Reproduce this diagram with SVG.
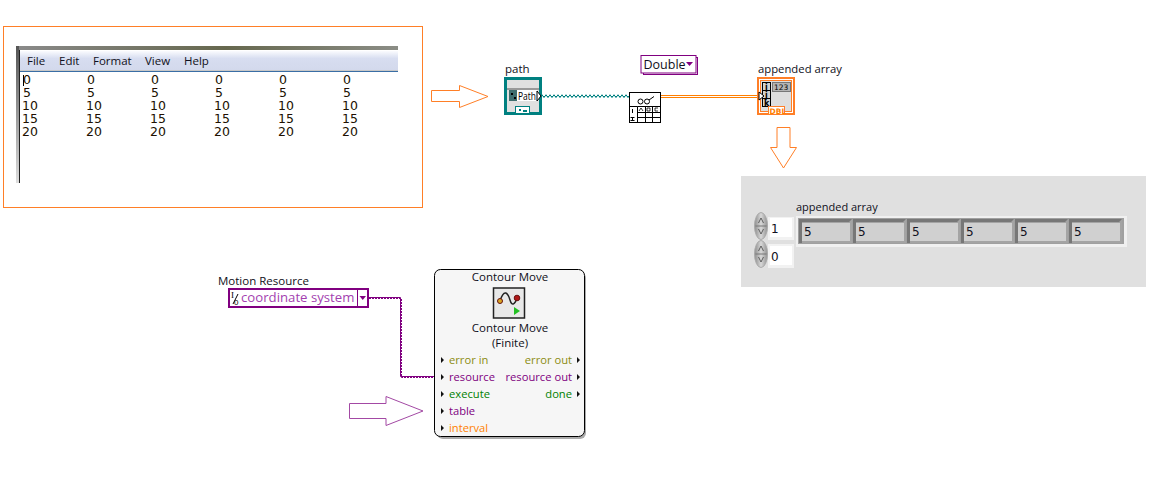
<svg xmlns="http://www.w3.org/2000/svg" width="1156" height="493" viewBox="0 0 1156 493">
<style>
text{font-family:"Open Sans","Noto Sans",sans-serif;font-size:11.500px;fill:#101020}
.row{font-size:11.200px}
.num{font-family:"DejaVu Sans",sans-serif;font-size:12.500px;fill:#201000}
.cell{font-family:"DejaVu Sans",sans-serif;font-size:12px}
.oa{fill:#fff;stroke:#ff7f27;stroke-width:1}
.pa{fill:#fff;stroke:#a349a4;stroke-width:1}
.err{fill:#8c8c10}.res{fill:#800080}.exe{fill:#008000}.int{fill:#ff7f00}
.tri{fill:#111}
.bev{fill:#a4a4a4}
.dk{fill:#777}
.in{fill:#d0d0d0}
.small{font-family:"DejaVu Sans",sans-serif;font-size:8px;font-weight:bold;fill:#000}
</style>
<defs>
<linearGradient id="top" x1="0" x2="1" y1="0" y2="0"><stop offset="0" stop-color="#8a8a8a"/><stop offset=".55" stop-color="#66684e"/><stop offset="1" stop-color="#8b8d86"/></linearGradient>
<linearGradient id="side" x1="0" x2="0" y1="0" y2="1"><stop offset="0" stop-color="#555"/><stop offset="1" stop-color="#ddd"/></linearGradient>
<linearGradient id="menu" x1="0" x2="0" y1="0" y2="1"><stop offset="0" stop-color="#fafbfe"/><stop offset=".4" stop-color="#d7ddf0"/><stop offset="1" stop-color="#d3d9ec"/></linearGradient>
<linearGradient id="spin" x1="0" x2="1" y1="0" y2="0"><stop offset="0" stop-color="#8c8c8c"/><stop offset=".5" stop-color="#d8d8d8"/><stop offset="1" stop-color="#909090"/></linearGradient>
<g id="spinner"><ellipse cx="0" cy="0" rx="6.500" ry="13.500" fill="url(#spin)" stroke="#aaa"/><path d="M-2.500-3 0-8 2.500-3M-2.500 3 0 8 2.500 3" fill="none" stroke="#444" stroke-width=".8"/><path d="M-5.500 0H5.500" stroke="#777"/></g>
<g id="cell"><rect x="0" y="0" width="53" height="24" class="bev"/><path d="M0 0H53L50 3H3V24L0 24Z" class="dk"/><rect x="3" y="4" width="48" height="18" class="in"/></g>
</defs>

<g id="file-window">
<rect x="3.500" y="26.500" width="419" height="181" fill="#fff" stroke="#ff7f27"/>
<rect x="16" y="46" width="382" height="4" fill="url(#top)"/>
<rect x="16" y="46" width="3" height="137" fill="url(#side)"/>
<rect x="19" y="50" width="1" height="133" fill="#222"/>
<rect x="20" y="51" width="378" height="19" fill="url(#menu)"/>
<rect x="20" y="70" width="378" height="1" fill="#c8c8c8"/>
<rect x="20" y="71" width="378" height="1" fill="#3a6ea5"/>
<text x="27" y="65">File</text><text x="59" y="65">Edit</text><text x="93" y="65">Format</text><text x="145" y="65">View</text><text x="184" y="65">Help</text>
<rect x="23" y="75" width="1" height="11" fill="#000"/>
<g class="rows">
<text class="num" x="23" y="84">0</text><text class="num" x="87" y="84">0</text><text class="num" x="151" y="84">0</text><text class="num" x="215" y="84">0</text><text class="num" x="279" y="84">0</text><text class="num" x="343" y="84">0</text>
<text class="num" x="23" y="97">5</text><text class="num" x="87" y="97">5</text><text class="num" x="151" y="97">5</text><text class="num" x="215" y="97">5</text><text class="num" x="279" y="97">5</text><text class="num" x="343" y="97">5</text>
<text class="num" x="22" y="110">10</text><text class="num" x="86" y="110">10</text><text class="num" x="150" y="110">10</text><text class="num" x="214" y="110">10</text><text class="num" x="278" y="110">10</text><text class="num" x="342" y="110">10</text>
<text class="num" x="22" y="123">15</text><text class="num" x="86" y="123">15</text><text class="num" x="150" y="123">15</text><text class="num" x="214" y="123">15</text><text class="num" x="278" y="123">15</text><text class="num" x="342" y="123">15</text>
<text class="num" x="22" y="136">20</text><text class="num" x="86" y="136">20</text><text class="num" x="150" y="136">20</text><text class="num" x="214" y="136">20</text><text class="num" x="278" y="136">20</text><text class="num" x="342" y="136">20</text>
</g>
</g>

<g id="connectors" fill="none">
<path d="M541 95.500H629" stroke="#008080" stroke-width="1.500" stroke-dasharray="2 2"/>
<path d="M541 96.800H629" stroke="#008080" stroke-width="1.500" stroke-dasharray="2 2" stroke-dashoffset="2"/>
<path d="M661 95.500H758M661 97.500H758" stroke="#ff7f00"/>
<path d="M661 96.500H758" stroke="#fff"/>
<path d="M369 297.500H400.500V376.500H437" stroke="#800080" stroke-width="1"/>
<path d="M369 298.500H401.500V377.500H437" stroke="#800080" stroke-width="1" stroke-dasharray="2 1"/>
</g>

<g id="arrow-right-orange"><polygon class="oa" points="431.500,90.500 459.500,90.500 459.500,85.500 488,96.500 459.500,107.500 459.500,101.500 431.500,101.500"/></g>
<g id="arrow-down-orange"><polygon class="oa" points="777,127.500 790,127.500 790,147.500 796.500,147.500 783.500,168 770.500,147.500 777,147.500"/></g>
<g id="arrow-right-purple"><polygon class="pa" points="349.500,403.500 386,403.500 386,396.500 423,411 386,425.500 386,418.500 349.500,418.500"/></g>

<g id="path-control">
<text x="505" y="73">path</text>
<rect x="505.500" y="78.500" width="35" height="35" fill="#e0e0e0" stroke="#008080" stroke-width="3"/>
<rect x="507" y="88" width="32" height="2" fill="#999"/>
<rect x="509" y="90" width="8" height="11" fill="#3f6e6e"/>
<path d="M511 93h2v2h-2zM514 97h2v2h-2z" fill="#000"/>
<rect x="517" y="90" width="20" height="11" fill="#fff"/>
<text x="518" y="100" textLength="18" lengthAdjust="spacingAndGlyphs" style="font-size:10.500px;fill:#000">Path</text>
<polygon points="537,91 537,101 541,96" fill="#fff" stroke="#000"/>
<rect x="515.500" y="106.500" width="14" height="7" fill="#fff" stroke="#008080"/>
<path d="M519 109h2v2h-2zM523 110h4v2h-4z" fill="#008080"/>
</g>

<g id="read-delimited">
<rect x="629.500" y="92.500" width="31" height="30" fill="#fff" stroke="#000"/>
<circle cx="640.500" cy="101.500" r="2.500" fill="none" stroke="#000"/><circle cx="647" cy="101.500" r="2.500" fill="none" stroke="#000"/>
<path d="M649 100 654 96.500" stroke="#000" fill="none"/>
<path d="M637.500 106.500H660.500M629.500 106.500H637.500M637.500 106.500V122.500M645.500 106.500V122.500M652.500 106.500V122.500M637.500 112.500H660.500M637.500 117.500H660.500" stroke="#000" fill="none"/>
<path d="M632.500 109V113M630.500 117.500H634.500M632.500 117.500V120.500M630.500 120.500H634.500" stroke="#000" fill="none"/>
<path d="M639 111l2-3 2 3M647 108h3v3h-3zM655 108h3M655 108v3h3" stroke="#000" stroke-width=".8" fill="none"/>
</g>

<g id="double-constant">
<rect x="643.500" y="57.500" width="54" height="17" fill="#fff" stroke="#800080"/>
<rect x="641" y="55.500" width="55" height="17.500" fill="#fff" stroke="#800080"/>
<text x="643.500" y="69" style="font-size:12.500px">Double</text>
<polygon points="686,62 693,62 689.500,66" fill="#800080"/>
</g>

<g id="appended-array-terminal">
<text x="758" y="73" style="font-size:11.300px">appended array</text>
<rect x="758" y="78" width="36" height="36" fill="#fff" stroke="#ff7f27" stroke-width="2"/>
<rect x="760.500" y="80.500" width="31" height="31" fill="#dedede" stroke="#ff7f27"/>
<rect x="762.500" y="82.500" width="8" height="24" fill="#d0d0d0" stroke="#000"/>
<path d="M762.500 90.500H770.500M762.500 98.500H770.500" stroke="#000"/>
<text class="small" x="765" y="89.500">i</text>
<text class="small" x="765" y="97.500">j</text>
<text class="small" x="764" y="105.500">k</text>
<rect x="772.500" y="82.500" width="18" height="9" fill="#b4b4b4" stroke="#777"/>
<text x="774" y="90" style="font-family:'DejaVu Sans',sans-serif;font-size:7.500px;fill:#000">123</text>
<polygon points="759,92 759,100 764,96" fill="#fff" stroke="#000"/>
<rect x="768.500" y="106.500" width="16" height="8" fill="#fff" stroke="#ff7f27"/>
<text x="769.500" y="113.500" style="font-family:'DejaVu Sans',sans-serif;font-size:7.500px;font-weight:bold;fill:#ff7f00">DBL</text>
</g>

<g id="front-panel">
<rect x="741" y="176" width="405" height="111" fill="#e0e0e0"/>
<text x="796" y="211" style="font-size:11px">appended array</text>
<rect x="796" y="216" width="331" height="31" fill="#f0f0f0"/>
<rect x="798" y="218" width="326" height="26" fill="#a0a0a0"/>
<use href="#cell" x="799" y="219"/><use href="#cell" x="853" y="219"/><use href="#cell" x="907" y="219"/><use href="#cell" x="961" y="219"/><use href="#cell" x="1015" y="219"/><use href="#cell" x="1069" y="219"/>
<text class="cell" x="804" y="236">5</text><text class="cell" x="858" y="236">5</text><text class="cell" x="912" y="236">5</text><text class="cell" x="966" y="236">5</text><text class="cell" x="1020" y="236">5</text><text class="cell" x="1074" y="236">5</text>
<use href="#spinner" x="761" y="226"/>
<rect x="768" y="217" width="26" height="23" fill="#f2f2f2"/><rect x="770" y="218" width="22" height="19" fill="#fff"/>
<text class="cell" x="771" y="233">1</text>
<use href="#spinner" x="761" y="254"/>
<rect x="768" y="244" width="26" height="24" fill="#f2f2f2"/><rect x="770" y="246" width="22" height="19" fill="#fff"/>
<text class="cell" x="771" y="261">0</text>
</g>

<g id="motion-resource">
<text x="218" y="285">Motion Resource</text>
<rect x="229" y="289" width="139" height="18" fill="#fff" stroke="#800080" stroke-width="2"/>
<path d="M357.500 289V307" stroke="#800080"/>
<polygon points="359.500,296 366,296 362.750,300" fill="#800080"/>
<text x="231" y="298" style="font-family:'Liberation Serif',serif;font-size:9px;fill:#000">I</text>
<path d="M238 294 233 304" stroke="#000"/>
<text x="234" y="305" style="font-family:'Liberation Sans',sans-serif;font-size:8px;fill:#000">0</text>
<text x="241" y="302" style="font-size:13.200px;fill:#a33fb0">coordinate system</text>
</g>

<g id="contour-move">
<rect x="437" y="272" width="149" height="167" rx="6" fill="#aaa"/>
<rect x="434.500" y="269.500" width="150" height="167" rx="6" fill="#f6f6f6" stroke="#000"/>
<text x="510" y="281" text-anchor="middle">Contour Move</text>
<rect x="493.500" y="288" width="31" height="30" fill="#e8e8e8" stroke="#222" stroke-width="1.500"/>
<path d="M500 301C504 288 508 293 510 300S515 304 517 298" fill="none" stroke="#222" stroke-width="1.500"/>
<circle cx="500" cy="301" r="2.500" fill="#d9a520" stroke="#611"/><circle cx="517" cy="298" r="2.800" fill="#b01818" stroke="#611"/>
<polygon points="514,307 514,315 520,311" fill="#22c022"/>
<text x="510" y="332" text-anchor="middle">Contour Move</text>
<text x="510" y="347" text-anchor="middle">(Finite)</text>
<path class="tri" d="M441 357v6l3-3zM441 374v6l3-3zM441 391v6l3-3zM441 408v6l3-3zM441 425v6l3-3zM577 357v6l3-3zM577 374v6l3-3zM577 391v6l3-3z"/>
<text class="err row" x="449" y="364">error in</text>
<text class="res row" x="449" y="381">resource</text>
<text class="exe row" x="449" y="398">execute</text>
<text class="res row" x="449" y="415">table</text>
<text class="int row" x="449" y="432">interval</text>
<text class="err row" x="572" y="364" text-anchor="end">error out</text>
<text class="res row" x="572" y="381" text-anchor="end">resource out</text>
<text class="exe row" x="572" y="398" text-anchor="end">done</text>
</g>
</svg>
